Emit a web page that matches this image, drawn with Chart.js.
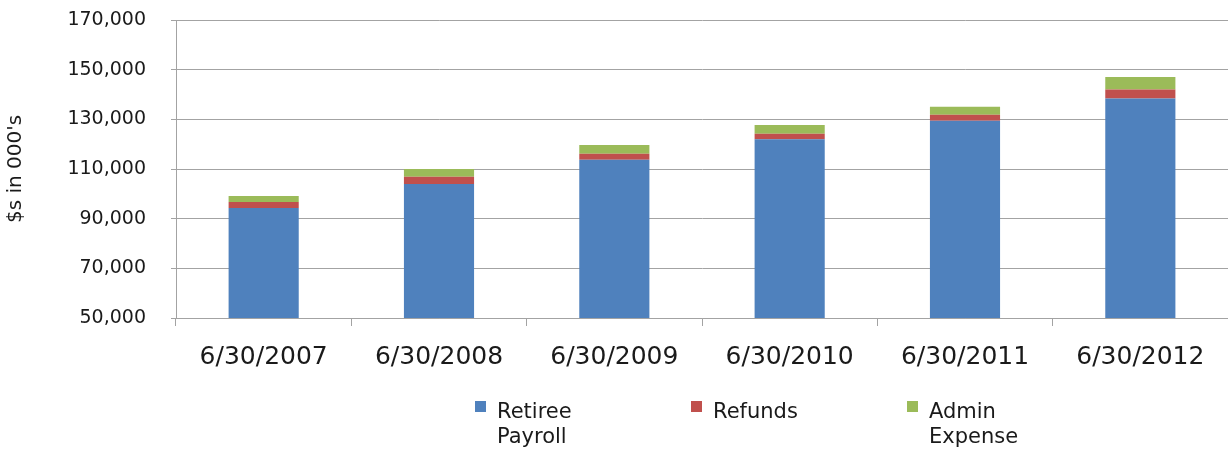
<!DOCTYPE html>
<html>
<head>
<meta charset="utf-8">
<script src="https://cdn.jsdelivr.net/npm/chart.js@4"></script>
<style>
  html, body { margin: 0; padding: 0; background: #fff; overflow: hidden; }
</style>
</head>
<body>
<canvas id="payoutChart" width="1228" height="449"></canvas>
<script>
const categories = ["6/30/2007", "6/30/2008", "6/30/2009", "6/30/2010", "6/30/2011", "6/30/2012"];
const retireePayroll = [94300, 104000, 113700, 122000, 129400, 138400];
const refunds = [2400, 2900, 2400, 2200, 2400, 3600];
const adminExpense = [2400, 3100, 3600, 3500, 3300, 5000];
const yTicks = [50000, 70000, 90000, 110000, 130000, 150000, 170000];

const FONT = "'DejaVu Sans', sans-serif";
const TEXT = "#1a1a1a";
const GRID = "#a3a3a3";

// Excel-style legend under the axis, long names wrap to two lines
const wrappedLegend = {
  id: "wrappedLegend",
  afterDraw(chart) {
    const ctx = chart.ctx;
    ctx.save();
    ctx.font = "21px " + FONT;
    ctx.textBaseline = "alphabetic";
    let x = 475;
    chart.data.datasets.forEach((ds) => {
      ctx.fillStyle = ds.backgroundColor;
      ctx.fillRect(x, 401, 11, 11);
      const lines = [];
      let line = "";
      ds.label.split(" ").forEach((w) => {
        const t = line ? line + " " + w : w;
        if (line && ctx.measureText(t).width > 110) {
          lines.push(line);
          line = w;
        } else {
          line = t;
        }
      });
      lines.push(line);
      ctx.fillStyle = TEXT;
      lines.forEach((l, i) => ctx.fillText(l, x + 22, 418 + i * 25));
      x += 216;
    });
    ctx.restore();
  },
};

const ctx = document.getElementById("payoutChart").getContext("2d");

new Chart(ctx, {
  type: "bar",
  data: {
    labels: categories,
    datasets: [
      { label: "Retiree Payroll", data: retireePayroll, backgroundColor: "#4F81BD" },
      { label: "Refunds", data: refunds, backgroundColor: "#C0504D" },
      { label: "Admin Expense", data: adminExpense, backgroundColor: "#9BBB59" },
    ],
  },
  options: {
    responsive: false,
    animation: false,
    categoryPercentage: 0.8,
    barPercentage: 0.5,
    layout: { padding: { top: 20, right: 0, bottom: 0, left: 0 } },
    plugins: {
      legend: { display: false },
      tooltip: { enabled: false },
    },
    scales: {
      x: {
        stacked: true,
        grid: { drawOnChartArea: false, color: GRID, tickLength: 8 },
        border: { color: GRID },
        ticks: { font: { family: FONT, size: 25 }, color: TEXT, padding: 16, maxRotation: 0 },
        afterFit(scale) {
          scale.height = 131;
          scale.paddingLeft = 0;
          scale.paddingRight = 0;
        },
      },
      y: {
        stacked: true,
        min: yTicks[0],
        max: yTicks[yTicks.length - 1],
        afterBuildTicks(scale) { scale.ticks = yTicks.map((v) => ({ value: v })); },
        ticks: {
          callback: (v) => v.toLocaleString("en-US"),
          font: { family: FONT, size: 19 },
          color: TEXT,
          padding: 25,
        },
        grid: { color: GRID, tickLength: 5 },
        border: { color: GRID },
        title: {
          display: true,
          text: "$s in 000's",
          font: { family: FONT, size: 20 },
          color: TEXT,
          padding: { top: 4, bottom: 4 },
        },
        afterFit(scale) {
          scale.width = 176;
          scale.paddingTop = 0;
          scale.paddingBottom = 0;
        },
      },
    },
  },
  plugins: [wrappedLegend],
});
</script>
</body>
</html>
